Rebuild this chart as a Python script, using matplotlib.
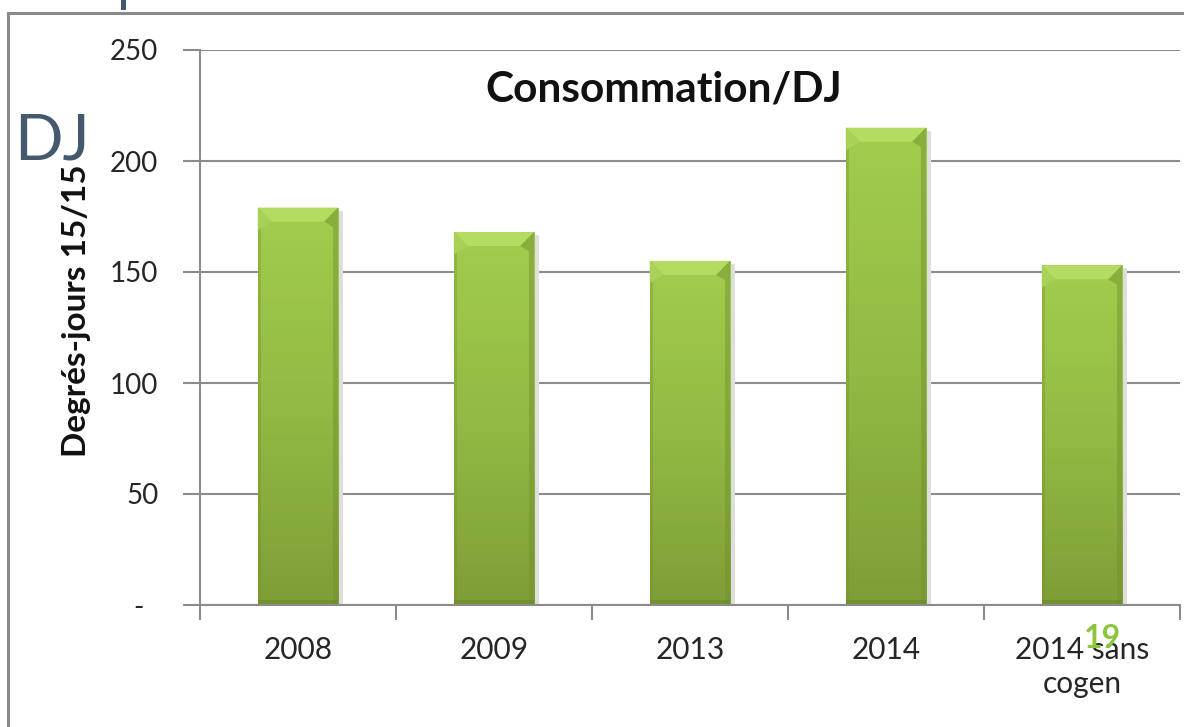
import numpy as np
import matplotlib
matplotlib.use("Agg")
import matplotlib.pyplot as plt
from matplotlib.patches import Polygon, Rectangle
from matplotlib.colors import LinearSegmentedColormap
from matplotlib.lines import Line2D

categories = ["2008", "2009", "2013", "2014", "2014 sans\ncogen"]
values = [179, 168, 155, 215, 153]
y_ticks = [0, 50, 100, 150, 200, 250]
y_tick_labels = ["-  ", "50", "100", "150", "200", "250"]

plt.rcParams["font.family"] = ["Lato", "DejaVu Sans"]

W, H = 1184, 727
fig = plt.figure(figsize=(W / 100, H / 100), dpi=100)
fig.patch.set_facecolor("white")

ax = fig.add_axes([200 / W, (H - 605) / H, 980 / W, 555 / H])
ax.set_xlim(-0.5, len(categories) - 0.5)
ax.set_ylim(0, 250)

grid_c = "#8c8c8c"
ax.set_yticks(y_ticks)
ax.set_yticklabels(y_tick_labels)
ax.yaxis.grid(True, color=grid_c, lw=1.5)
ax.set_axisbelow(True)
ax.set_xticks(np.arange(len(categories)))
ax.set_xticklabels(categories, linespacing=1.3)
ax.set_xticks(np.arange(len(categories) + 1) - 0.5, minor=True)
ax.tick_params(axis="x", which="major", length=0, pad=22, labelsize=21.5, colors="#262626")
ax.tick_params(axis="x", which="minor", length=11, width=1.5, color=grid_c, direction="out")
ax.tick_params(axis="y", length=12, width=1.5, color=grid_c, pad=18, labelsize=20, labelcolor="#262626")
for s in ["top", "right"]:
    ax.spines[s].set_visible(False)
for s in ["left", "bottom"]:
    ax.spines[s].set_color(grid_c)
    ax.spines[s].set_linewidth(1.5)

ax.set_ylabel("Degrés-jours 15/15", fontsize=24, fontweight="bold", color="#111111")
ax.yaxis.set_label_coords(-(200 - 91) / 980, (605 - 311) / 555)

# bars with a bevelled green finish
bar_w = 0.41
bars = ax.bar(np.arange(len(categories)), values, width=bar_w, color="#9cc648",
              edgecolor="none", zorder=2)

grad = LinearSegmentedColormap.from_list("g", ["#7f9e36", "#93ba44", "#a2cd4e"])
fig.canvas.draw()
inv = ax.transData.inverted()
px_x = inv.transform((10, 0))[0] - inv.transform((0, 0))[0]
px_y = inv.transform((0, 10))[1] - inv.transform((0, 0))[1]

for rect, v in zip(bars, values):
    x0 = rect.get_x()
    x1 = x0 + rect.get_width()
    # soft shadow on the right
    ax.add_patch(Rectangle((x1, 0), px_x * 0.5, v - px_y * 0.3, color="#dedede", zorder=1.5, lw=0))
    img = np.linspace(0, 1, 256).reshape(-1, 1)
    im = ax.imshow(img, cmap=grad, aspect="auto", extent=(x0, x1, 0, v),
                   origin="lower", zorder=2.1)
    im.set_clip_path(rect)
    # side shading
    ax.add_patch(Rectangle((x0, 0), px_x * 0.35, v, color="#6f8f2c", alpha=0.35, zorder=2.2, lw=0))
    ax.add_patch(Rectangle((x1 - px_x * 0.5, 0), px_x * 0.5, v, color="#6f8f2c", alpha=0.45, zorder=2.2, lw=0))
    ax.add_patch(Rectangle((x0, 0), x1 - x0, px_y * 0.5, color="#6a8a2a", alpha=0.6, zorder=2.2, lw=0))
    # top bevel
    d_x, d_y = px_x * 1.4, px_y * 1.4
    ax.add_patch(Polygon([(x0, v), (x1, v), (x1 - d_x, v - d_y), (x0 + d_x, v - d_y)],
                         closed=True, color="#b4dc63", zorder=2.3, lw=0))
    ax.add_patch(Polygon([(x0, v), (x0 + d_x, v - d_y), (x0, v - d_y * 1.6)],
                         closed=True, color="#a8d158", zorder=2.3, lw=0))
    ax.add_patch(Polygon([(x1, v), (x1 - d_x, v - d_y), (x1, v - d_y * 1.6)],
                         closed=True, color="#8aae3c", zorder=2.3, lw=0))

fig.text(664 / W, 1 - 89 / H, "Consommation/DJ", fontsize=30.5, fontweight="bold",
         ha="center", va="center", color="#111111")

# slide decorations
fig.add_artist(Line2D([8 / W, 1], [1 - 13 / H, 1 - 13 / H], color="#8a8a8a", lw=2.2))
fig.add_artist(Line2D([8 / W, 8 / W], [0, 1 - 13 / H], color="#8a8a8a", lw=2.2))
fig.add_artist(Rectangle((121 / W, 1 - 10 / H), 5 / W, 10 / H, color="#44596e", lw=0))
fig.text(14 / W, 1 - 142 / H, "DJ", fontsize=46, color="#44596e", ha="left", va="center")
fig.text(1102 / W, 1 - 638 / H, "19", fontsize=23, fontweight="bold", color="#8cc63f",
         ha="center", va="center", zorder=10)

fig.savefig("out.png", dpi=100, facecolor="white")
